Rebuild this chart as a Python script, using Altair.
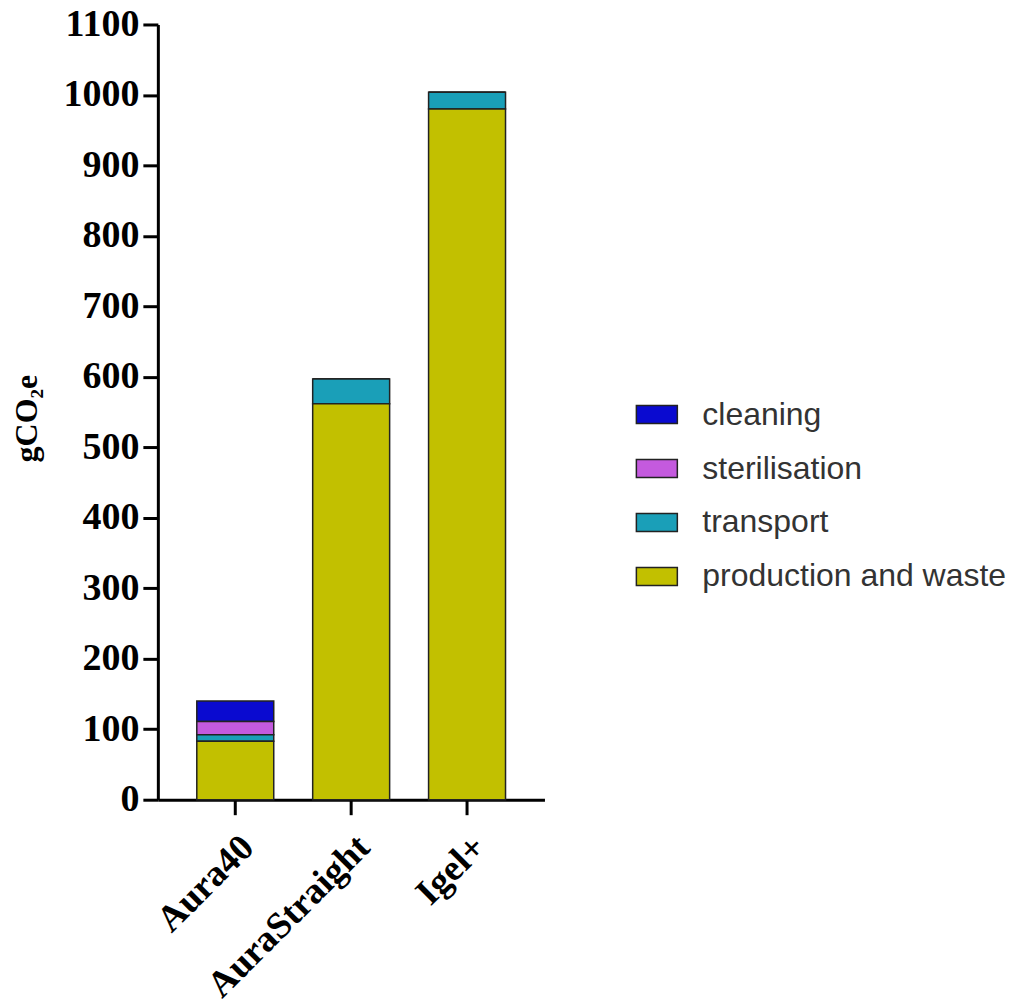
import altair as alt
import pandas as pd

devices = ["Aura40", "AuraStraight", "Igel+"]
components = ["cleaning", "sterilisation", "transport", "production and waste"]
colors = ["#0a0ad0", "#c45ade", "#1a9fb8", "#c2c000"]

cleaning = [29, 0, 0]
sterilisation = [19, 0, 0]
transport = [9, 35, 24]
production = [83, 562, 980]

rows = []
series = {"cleaning": cleaning, "sterilisation": sterilisation,
          "transport": transport, "production and waste": production}
stack_rank = {"production and waste": 0, "transport": 1, "sterilisation": 2, "cleaning": 3}
for comp, vals in series.items():
    for d, v in zip(devices, vals):
        rows.append({"device": d, "component": comp, "value": v, "rank": stack_rank[comp]})
df = pd.DataFrame(rows)

legend_shape = "M-1,-0.44L1,-0.44L1,0.44L-1,0.44Z"

chart = alt.Chart(df).mark_bar(stroke="#222222", strokeWidth=1.5).encode(
    x=alt.X("device:N", sort=devices,
            scale=alt.Scale(paddingInner=0.336, paddingOuter=0.336),
            axis=alt.Axis(title=None, labelAngle=-45, labelFont="Liberation Serif",
                          labelFontWeight="bold", labelFontSize=37, labelColor="black",
                          domainColor="black", domainWidth=3, tickColor="black",
                          tickWidth=3, tickSize=15, labelPadding=14, labelLimit=400)),
    y=alt.Y("value:Q", stack="zero",
            scale=alt.Scale(domain=[0, 1100], nice=False),
            axis=alt.Axis(title="gCO₂e", values=list(range(0, 1101, 100)), format="d",
                          labelFont="Liberation Serif", labelFontWeight="bold",
                          labelFontSize=38, labelColor="black",
                          titleFont="Liberation Serif", titleFontWeight="bold",
                          titleFontSize=32, titleColor="black",
                          titleX=-114, titleY=394, titleAngle=270,
                          domainColor="black", domainWidth=3, tickColor="black",
                          tickWidth=3, tickSize=15, labelPadding=4, grid=False)),
    color=alt.Color("component:N",
                    scale=alt.Scale(domain=components, range=colors),
                    legend=alt.Legend(title=None, orient="none", legendX=478, legendY=369,
                                      symbolType=legend_shape, symbolSize=1681,
                                      symbolStrokeColor="#222222", symbolStrokeWidth=1.5,
                                      labelFont="Liberation Sans", labelFontSize=32,
                                      labelColor="#333333", rowPadding=16,
                                      labelOffset=24, padding=0, labelLimit=400)),
    order=alt.Order("rank:Q", sort="ascending"),
).properties(
    width=387, height=776,
    autosize=alt.AutoSizeParams(type="none"),
    padding={"left": 150, "top": 16, "right": 470, "bottom": 199},
).configure(background="white").configure_view(stroke=None)

chart.save("out.html", embed_options={"renderer": "svg", "actions": False})
